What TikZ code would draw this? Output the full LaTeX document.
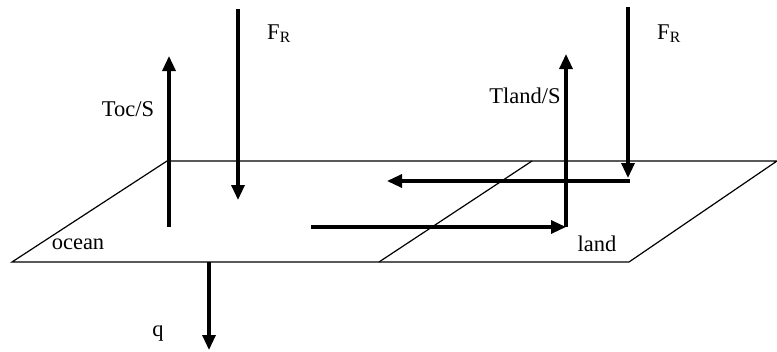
\documentclass[tikz,border=0pt]{standalone}
\usepackage{fontspec}
\setmainfont{Liberation Serif}
\usetikzlibrary{arrows.meta}
\begin{document}
\begin{tikzpicture}[x=1pt,y=-1pt,
  flux/.style={line width=3.2pt,-{Triangle[length=15pt,width=13pt]}},
  plane/.style={line width=1.2pt,line join=miter},
  lbl/.style={font=\fontsize{22.5}{24}\selectfont,inner sep=0pt,anchor=center}]
\useasboundingbox (0,0) rectangle (777,351);
% plane corners
\coordinate (TL) at (167,161);
\coordinate (TR) at (777,161);
\coordinate (BR) at (629,262);
\coordinate (BL) at (12,262);
\coordinate (DT) at (532,161);
\coordinate (DB) at (379,262);
\draw[plane] (TL) -- (TR) -- (BR) -- (BL) -- cycle;
\draw[plane] (DT) -- (DB);
% arrow end points
\coordinate (ocB) at (169,227);
\coordinate (ocT) at (169,56);
\coordinate (frLT) at (238,9);
\coordinate (frLB) at (238,200);
\coordinate (qT) at (209,262);
\coordinate (qB) at (209,350);
\coordinate (laB) at (566,227);
\coordinate (laT) at (566,54);
\coordinate (frRT) at (628,7);
\coordinate (frRB) at (628,178);
\coordinate (corner) at (629.6,181);
\coordinate (hLE) at (387,181);
\coordinate (hRS) at (311,227);
\draw[flux] (ocB) -- (ocT);
\draw[flux] (frLT) -- (frLB);
\draw[flux] (qT) -- (qB);
\draw[flux] (laB) -- (laT);
\draw[flux] (frRT) -- (frRB);
\draw[flux] (corner) -- (hLE);
\draw[flux] (hRS) -- (laB);
% labels
\node[lbl] (tocS) at (128,109) {Toc/S};
\node[lbl] (frL) at (279,34) {F\textsubscript{R}};
\node[lbl] (frR) at (669,34) {F\textsubscript{R}};
\node[lbl] (tlandS) at (525,96) {Tland/S};
\node[lbl] (q) at (158,333) {q};
\node[lbl] (ocean) at (78,244) {ocean};
\node[lbl] (land) at (597,244) {land};
\end{tikzpicture}
\end{document}
